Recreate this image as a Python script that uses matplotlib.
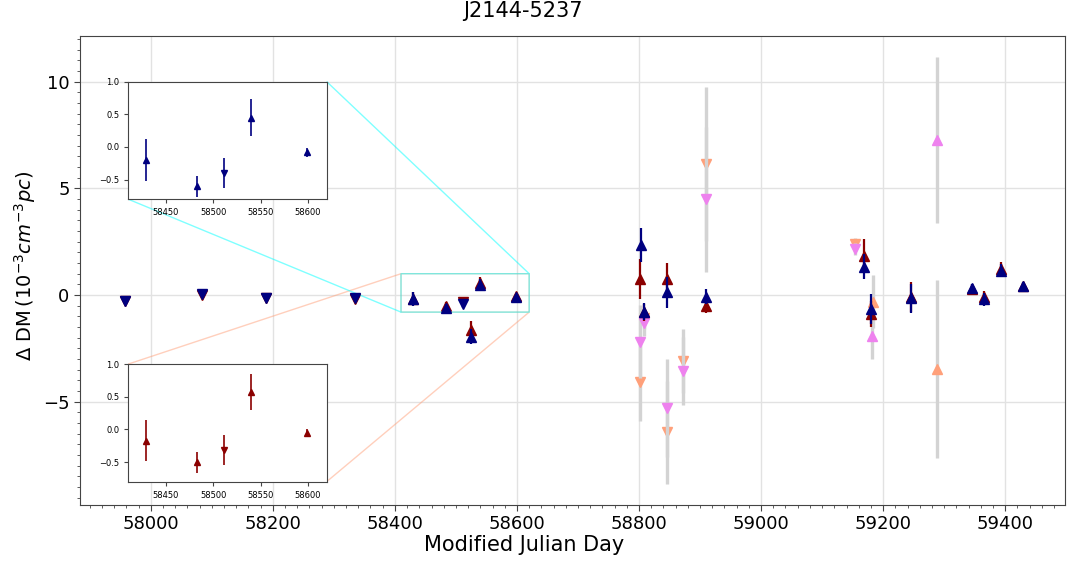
import numpy as np
import matplotlib
matplotlib.use("Agg")
import matplotlib.pyplot as plt
from matplotlib.ticker import MultipleLocator

# ---- data ----
title = "J2144-5237"

mjd_blue = [57957, 58083.5, 58189, 58334.7, 58429, 58483, 58511.5, 58525, 58539.6, 58599,
            58802.7, 58808.6, 58846.3, 58909.2, 59168, 59180.6, 59245.5, 59345, 59364.7,
            59392.5, 59428.6]
dm_blue = [-0.27, 0.05, -0.12, -0.12, -0.20, -0.60, -0.40, -1.95, 0.45, -0.08,
           2.34, -0.78, 0.12, -0.08, 1.33, -0.67, -0.16, 0.34, -0.20, 1.14, 0.44]
err_blue = [0.10, 0.10, 0.12, 0.10, 0.32, 0.16, 0.23, 0.35, 0.28, 0.07,
            0.78, 0.40, 0.73, 0.35, 0.60, 0.70, 0.70, 0.20, 0.30, 0.30, 0.15]
up_blue = [False, False, False, False, True, True, False, True, True, True,
           True, True, True, True, True, True, True, True, True, True, True]

mjd_red = [57957, 58083.5, 58189, 58334.7, 58429, 58483, 58511.5, 58525, 58539.6, 58599,
           58802, 58808.6, 58846.3, 58909.2, 59168, 59180.6, 59245.5, 59345, 59364.7,
           59392.5, 59428.6]
dm_red = [-0.30, 0.02, -0.15, -0.20, -0.17, -0.50, -0.32, -1.64, 0.57, -0.06,
          0.75, -0.80, 0.73, -0.52, 1.83, -0.90, -0.08, 0.30, -0.10, 1.20, 0.42]
err_red = [0.10, 0.10, 0.12, 0.12, 0.31, 0.16, 0.23, 0.40, 0.28, 0.06,
           0.95, 0.40, 0.75, 0.30, 0.80, 0.60, 0.70, 0.20, 0.30, 0.35, 0.15]
up_red = up_blue

mjd_salmon = [58802, 58808.6, 58846.3, 58872.6, 58909.2, 59153.8, 59183, 59288.7]
dm_salmon = [-4.09, -1.09, -6.44, -3.09, 6.13, 2.38, -0.31, -3.47]
err_salmon = [1.8, 0.5, 2.4, 1.5, 3.6, 0.3, 1.25, 4.17]
up_salmon = [False, False, False, False, False, False, True, True]

mjd_violet = [58802, 58808.6, 58846.3, 58872.6, 58909.2, 59153.8, 59182, 59288.7]
dm_violet = [-2.19, -1.33, -5.31, -3.55, 4.49, 2.16, -1.92, 7.27]
err_violet = [1.7, 0.6, 2.3, 1.6, 3.4, 0.3, 1.1, 3.9]
up_violet = [False, False, False, False, False, False, True, True]

zoom_xlim = (58410, 58620)
zoom_ylim = (-0.8, 1.0)

# ---- figure ----
fig = plt.figure(figsize=(10.68, 5.62), dpi=100)
ax = fig.add_axes([80/1068, 57/562, 985/1068, 469/562])

spine_c = "#444444"


def draw(a, x, y, e, up, color, ecolor, ms, elw, zorder):
    x = np.asarray(x); y = np.asarray(y); e = np.asarray(e); up = np.asarray(up)
    a.errorbar(x, y, yerr=e, fmt='none', ecolor=ecolor, elinewidth=elw,
               capsize=0, zorder=zorder)
    a.plot(x[up], y[up], linestyle='none', marker='^', color=color, ms=ms,
           mec=color, zorder=zorder + 0.5)
    a.plot(x[~up], y[~up], linestyle='none', marker='v', color=color, ms=ms,
           mec=color, zorder=zorder + 0.5)


grey = "#d3d3d3"
draw(ax, mjd_salmon, dm_salmon, err_salmon, up_salmon, "lightsalmon", grey, 6.5, 2.4, 2)
draw(ax, mjd_violet, dm_violet, err_violet, up_violet, "violet", grey, 6.5, 2.4, 3)
draw(ax, mjd_red, dm_red, err_red, up_red, "darkred", "darkred", 6.5, 1.6, 4)
draw(ax, mjd_blue, dm_blue, err_blue, up_blue, "navy", "navy", 6.5, 1.6, 5)

ax.set_xlim(57884, 59498)
ax.set_ylim(-9.84, 12.14)
ax.xaxis.set_major_locator(MultipleLocator(200))
ax.xaxis.set_minor_locator(MultipleLocator(20))
ax.yaxis.set_major_locator(MultipleLocator(5))
ax.yaxis.set_minor_locator(MultipleLocator(0.5))
ax.grid(True, which='major', color='#e2e2e2', linewidth=1.0)
ax.set_axisbelow(True)
ax.tick_params(axis='both', which='major', labelsize=13, length=4, color=spine_c)
ax.tick_params(axis='both', which='minor', length=2, color=spine_c)
for s in ax.spines.values():
    s.set_color(spine_c)

fig.text(523/1068, 1 - 11/562, title, ha='center', va='center', fontsize=15)
fig.text(524/1068, 1 - 545/562, "Modified Julian Day", ha='center', va='center', fontsize=15)
fig.text(25/1068, 1 - 266/562, r'$\Delta$ DM$\,(10^{-3}cm^{-3}pc)$', ha='center',
         va='center', rotation=90, fontsize=14)

# ---- insets ----
def make_inset(bounds, x, y, e, up, color, ind_color):
    axi = ax.inset_axes(bounds)
    draw(axi, x, y, e, up, color, color, 4, 1.2, 3)
    axi.set_xlim(*zoom_xlim)
    axi.set_ylim(*zoom_ylim)
    axi.xaxis.set_major_locator(MultipleLocator(50))
    axi.yaxis.set_major_locator(MultipleLocator(0.5))
    axi.tick_params(labelsize=6, length=3, color=spine_c)
    for s in axi.spines.values():
        s.set_color(spine_c)
    axi.set_facecolor('white')
    ax.indicate_inset_zoom(axi, edgecolor=ind_color, alpha=0.5, linewidth=1.0)
    return axi


make_inset([0.049, 0.0497, 0.2014, 0.2508], mjd_red, dm_red, err_red, up_red,
           "darkred", "lightsalmon")
make_inset([0.049, 0.652, 0.2014, 0.2508], mjd_blue, dm_blue, err_blue, up_blue,
           "navy", "cyan")

fig.savefig("out.png", dpi=100)
